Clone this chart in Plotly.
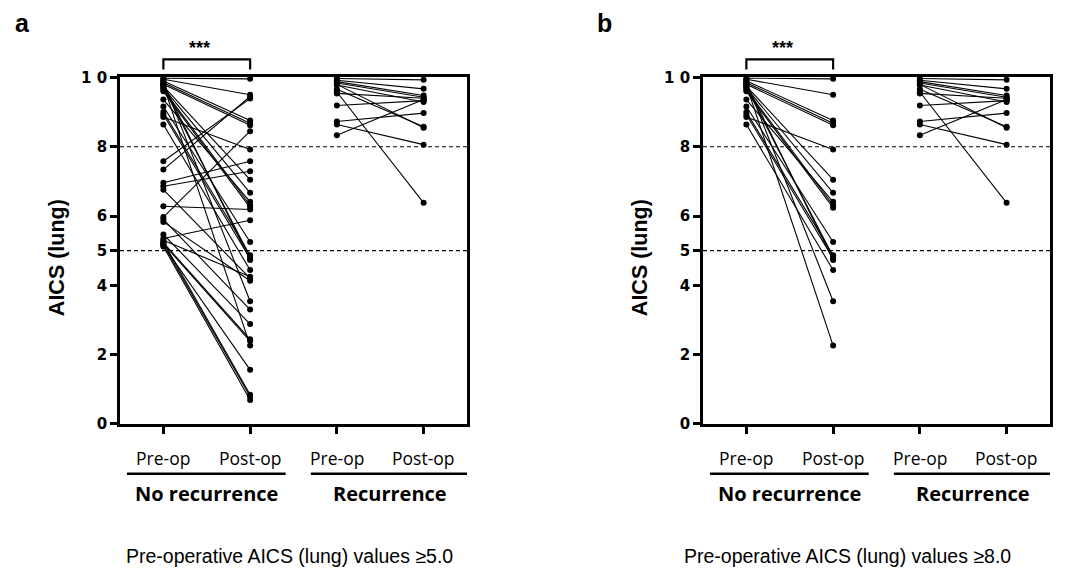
import plotly.graph_objects as go

# ---------------- data ----------------
categories = ["Pre-op", "Post-op", "Pre-op", "Post-op"]
group_labels = ["No recurrence", "Recurrence"]
y_ticks = [0, 2, 4, 5, 6, 8, 10]
y_ticktext = ["0", "2", "4", "5", "6", "8", "1 0"]
cutoffs = [8, 5]

# No recurrence, pre-op >= 8.0 (present in both panels)
nr_high_pre = [9.98, 9.95, 9.90, 9.85, 9.80, 8.86, 9.75, 9.70, 9.36, 9.65,
               9.60, 9.16, 9.00, 9.72, 8.93, 9.82, 8.64, 9.88, 9.78]
nr_high_post = [9.96, 9.50, 8.76, 8.68, 8.62, 7.92, 7.05, 6.67, 6.41, 6.31,
                6.24, 5.25, 4.87, 4.82, 4.77, 4.73, 4.44, 3.54, 2.26]

# No recurrence, pre-op 5.0 - 8.0 (panel a only)
nr_mid_pre = [7.58, 7.34, 6.96, 6.86, 6.76, 6.28, 5.97, 5.90, 5.83, 5.47,
              5.30, 5.23, 5.20, 5.15, 5.25, 5.18, 5.12, 5.35]
nr_mid_post = [9.39, 9.45, 7.58, 7.29, 4.20, 6.19, 8.45, 3.30, 4.13, 2.88,
               4.25, 2.44, 2.39, 1.56, 0.84, 0.79, 0.69, 5.88]

# Recurrence (same patients in both panels)
rec_pre = [9.97, 9.92, 9.88, 9.84, 9.78, 9.80, 9.66, 9.58, 9.54, 9.19,
           8.73, 8.64, 8.33]
rec_post = [9.93, 9.67, 9.48, 9.43, 9.29, 8.55, 8.58, 6.38, 9.40, 9.33,
            8.97, 8.06, 9.36]

panel_letters = ["a", "b"]
captions = ["Pre-operative AICS (lung) values \u22655.0",
            "Pre-operative AICS (lung) values \u22658.0"]

# ---------------- layout helpers ----------------
W, H = 1071, 570
OFF = 8  # page body margin
def px_x(p):
    return (p - OFF) / W
def px_y(t):
    p = (t - 8.7) / 0.97
    return 1 - (p - OFF) / H

x_domains = [[px_x(120), px_x(467)], [px_x(703), px_x(1050)]]
y_domain = [px_y(424), px_y(77)]


def pair_xy(pre, post, x0):
    xs, ys = [], []
    for a, b in zip(pre, post):
        xs += [x0, x0 + 1, None]
        ys += [a, b, None]
    return xs, ys


fig = go.Figure()

panels = [
    (nr_high_pre + nr_mid_pre, nr_high_post + nr_mid_post),
    (nr_high_pre, nr_high_post),
]

shapes = []
annotations = []
font_txt = "Open Sans"


def ann(**kw):
    d = dict(showarrow=False, xanchor="center", yanchor="middle")
    d.update(kw)
    annotations.append(d)


for i, (pre, post) in enumerate(panels):
    xa = "x" if i == 0 else "x2"
    ya = "y" if i == 0 else "y2"
    for (p0, p1, x0) in [(pre, post, 1), (rec_pre, rec_post, 3)]:
        xs, ys = pair_xy(p0, p1, x0)
        fig.add_trace(go.Scatter(
            x=xs, y=ys, mode="lines+markers", xaxis=xa, yaxis=ya,
            line=dict(color="black", width=1.1),
            marker=dict(color="black", size=6),
            cliponaxis=False, showlegend=False, hoverinfo="skip"))

    # dashed cut-off lines
    for c in cutoffs:
        shapes.append(dict(type="line", xref=xa, yref=ya, x0=0.5, x1=4.5,
                           y0=c, y1=c, line=dict(color="black", width=1.2,
                                                 dash="4px,3px"), layer="below"))
    # significance bracket
    shapes.append(dict(type="path", xref=xa, yref="paper",
                       path=f"M 1,{px_y(69)} L 1,{px_y(59)} L 2,{px_y(59)} L 2,{px_y(69)}",
                       line=dict(color="black", width=2.2)))
    ann(x=1.42, y=px_y(48), xref=xa, yref="paper", text="<b>***</b>",
        font=dict(size=18, color="black", family="Liberation Sans"))
    # category labels
    for k, cat in enumerate(categories):
        ann(x=k + 1, y=px_y(458), xref=xa, yref="paper", text=cat,
            font=dict(size=17.5, color="black", family=font_txt))
    # group underlines + labels
    for (gx0, gx1, lab) in [(0.58, 2.41, group_labels[0]), (2.70, 4.53, group_labels[1])]:
        shapes.append(dict(type="line", xref=xa, yref="paper", x0=gx0, x1=gx1,
                           y0=px_y(474), y1=px_y(474), line=dict(color="black", width=2.5)))
        ann(x=(gx0 + gx1) / 2, y=px_y(494), xref=xa, yref="paper",
            text=f"<b>{lab}</b>",
            font=dict(size=20, color="black", family=font_txt))
    # y-axis title
    ann(x=px_x(57 if i == 0 else 640), y=px_y(258), xref="paper", yref="paper",
        text="<b>AICS (lung)</b>", textangle=-90,
        font=dict(size=21.5, color="black", family="Liberation Sans"))
    # panel letter
    ann(x=px_x(22 if i == 0 else 604), y=px_y(22), xref="paper", yref="paper",
        text=f"<b>{panel_letters[i]}</b>",
        font=dict(size=25, color="black", family="Liberation Sans"))
    # caption
    ann(x=px_x(289 if i == 0 else 847), y=px_y(556), xref="paper", yref="paper",
        text=captions[i],
        font=dict(size=19.5, color="black", family="Liberation Sans"))

axis_common = dict(showgrid=False, zeroline=False, showline=True, linewidth=2.7,
                   linecolor="black", mirror=True, ticks="outside", ticklen=7,
                   tickwidth=2.7, tickcolor="black")

fig.update_layout(
    width=W, height=H, margin=dict(l=0, r=0, t=0, b=0),
    paper_bgcolor="white", plot_bgcolor="white",
    shapes=shapes, annotations=annotations,
    xaxis=dict(domain=x_domains[0], range=[0.5, 4.5], tickvals=[1, 2, 3, 4],
               showticklabels=False, anchor="y", **axis_common),
    yaxis=dict(domain=y_domain, range=[0, 10], tickvals=y_ticks,
               ticktext=[f"<b>{t}</b>" for t in y_ticktext], anchor="x",
               tickfont=dict(size=15, color="black", family="DejaVu Sans"), **axis_common),
    xaxis2=dict(domain=x_domains[1], range=[0.5, 4.5], tickvals=[1, 2, 3, 4],
                showticklabels=False, anchor="y2", **axis_common),
    yaxis2=dict(domain=y_domain, range=[0, 10], tickvals=y_ticks,
                ticktext=[f"<b>{t}</b>" for t in y_ticktext], anchor="x2",
                tickfont=dict(size=15, color="black", family="DejaVu Sans"), **axis_common),
)

fig.write_html("out.html")
